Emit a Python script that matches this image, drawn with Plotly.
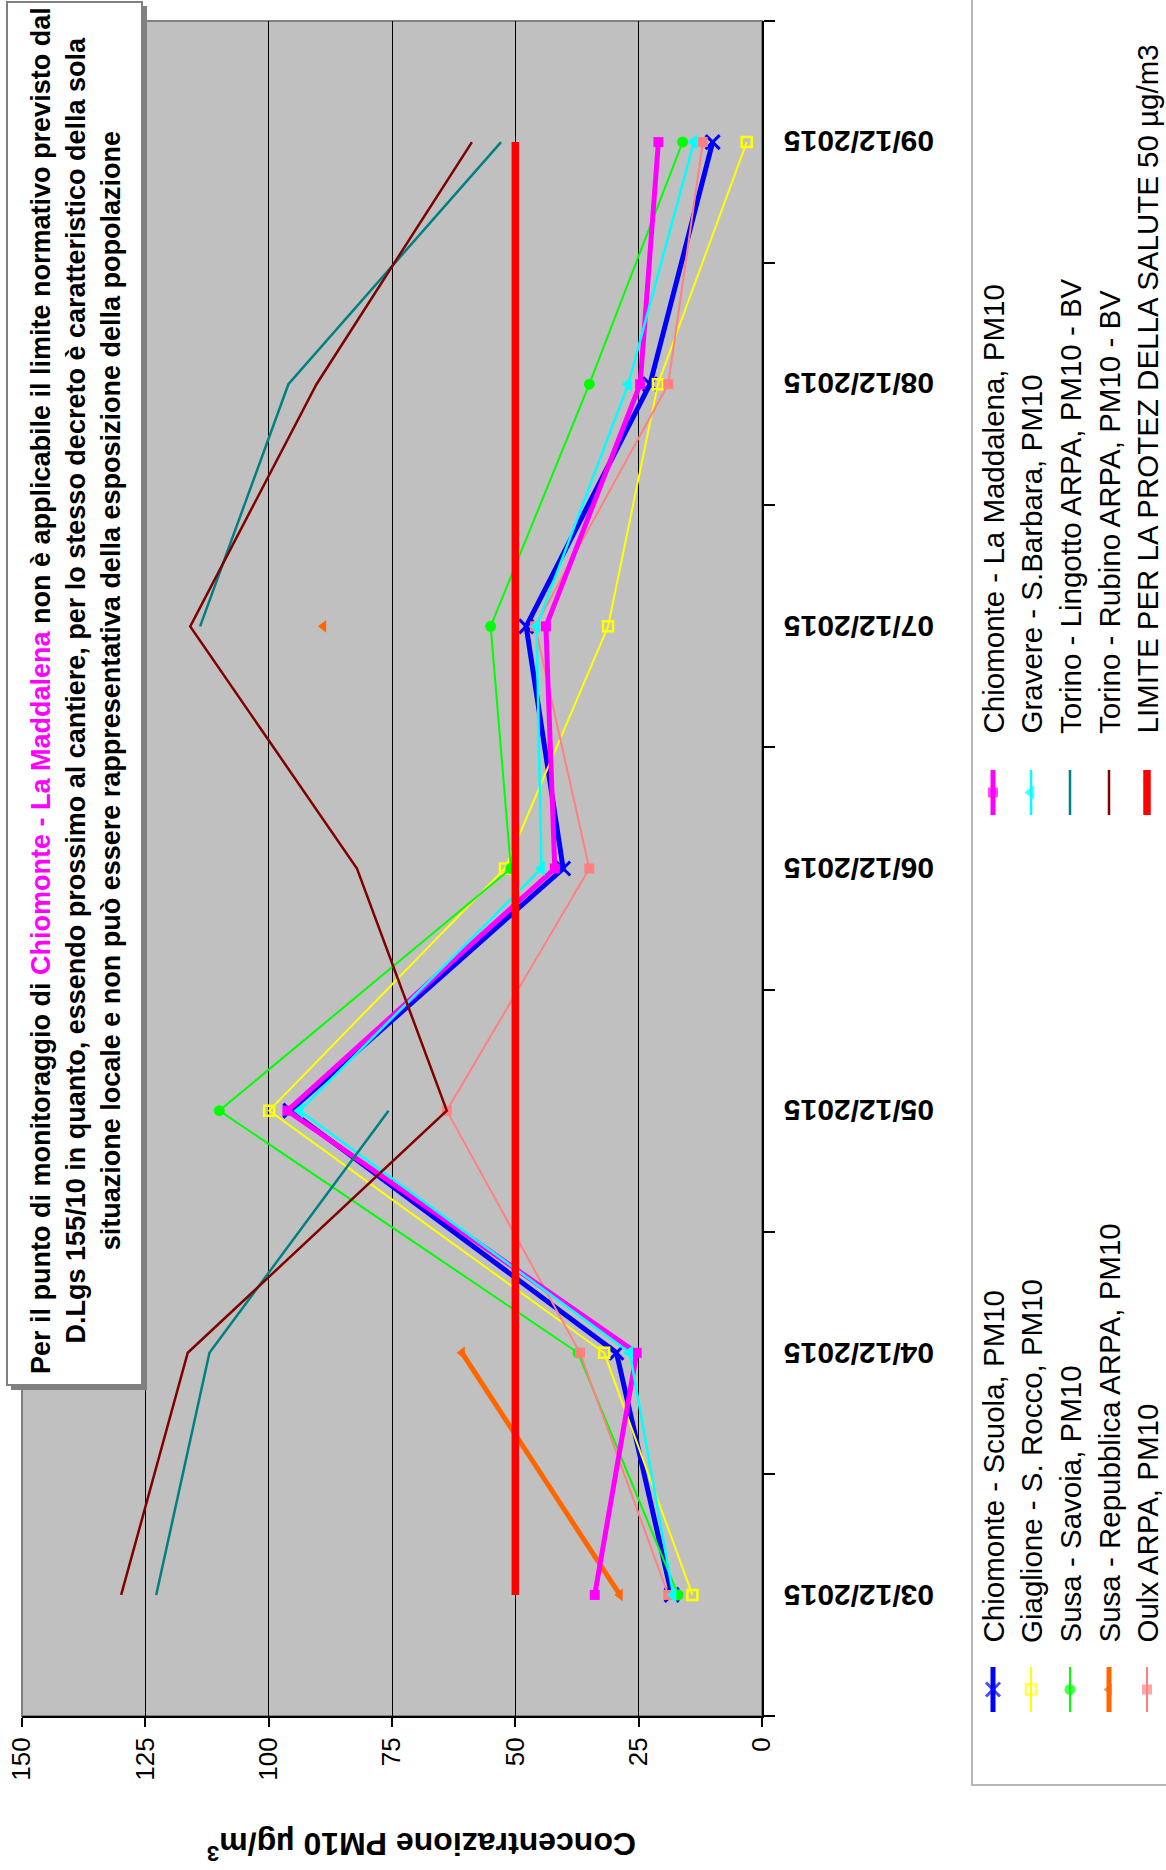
import plotly.graph_objects as go

W, H = 1166, 1870

dates = ["03/12/2015", "04/12/2015", "05/12/2015", "06/12/2015",
         "07/12/2015", "08/12/2015", "09/12/2015"]
value_ticks = [0, 25, 50, 75, 100, 125, 150]

scuola = [18.3, 29.5, 95.6, 40.3, 47.8, 22.7, 10.0]
giaglione = [14.1, 32.0, 99.9, 52.1, 31.2, 21.1, 3.1]
savoia = [17.0, 37.3, 110.0, 50.9, 55.0, 35.0, 16.1]
repubblica = [28.8, 60.8, None, None, 88.9, None, None]
oulx = [19.0, 36.9, 63.9, 35.0, 46.0, 19.0, 12.0]
maddalena = [33.9, 25.4, 96.2, 42.0, 43.8, 24.7, 21.0]
gravere = [18.0, 26.8, 93.7, 44.7, 45.7, 27.1, 13.8]
lingotto = [122.8, 112.0, 75.7, None, 113.9, 96.0, 52.9]
rubino = [129.9, 116.4, 63.9, 82.1, 115.9, 90.3, 58.8]
limite = [50, 50, 50, 50, 50, 50, 50]

names = ["Chiomonte - Scuola, PM10", "Giaglione - S. Rocco, PM10", "Susa - Savoia, PM10",
         "Susa - Repubblica ARPA, PM10", "Oulx ARPA, PM10",
         "Chiomonte - La Maddalena, PM10", "Gravere - S.Barbara, PM10",
         "Torino - Lingotto ARPA, PM10 - BV", "Torino - Rubino ARPA, PM10 - BV",
         "LIMITE PER LA PROTEZ DELLA SALUTE 50 µg/m3"]
values = [scuola, giaglione, savoia, repubblica, oulx, maddalena, gravere, lingotto, rubino, limite]

styles = [
    dict(color="#0000FF", width=5, symbol="x-thin-open", size=14, mlw=3),
    dict(color="#FFFF00", width=2, symbol="square-open", size=10, mlw=2.5),
    dict(color="#00FF00", width=2, symbol="circle", size=11, mlw=0),
    dict(color="#FF6600", width=5, symbol="triangle-left", size=11, mlw=0),
    dict(color="#FF8080", width=2, symbol="square", size=10, mlw=0),
    dict(color="#FF00FF", width=5, symbol="square", size=10, mlw=0),
    dict(color="#00FFFF", width=2.5, symbol="triangle-left", size=13, mlw=0),
    dict(color="#008080", width=2.5, symbol=None, size=0, mlw=0),
    dict(color="#800000", width=2.5, symbol=None, size=0, mlw=0),
    dict(color="#FF0000", width=7.5, symbol=None, size=0, mlw=0),
]

FONT = "Liberation Sans, Arial, sans-serif"

fig = go.Figure()

for name, vals, st in zip(names, values, styles):
    mode = "lines+markers" if st["symbol"] else "lines"
    marker = dict(symbol=st["symbol"], size=st["size"], color=st["color"],
                  line=dict(width=st["mlw"], color=st["color"])) if st["symbol"] else None
    fig.add_trace(go.Scatter(x=vals, y=dates, mode=mode, name=name, connectgaps=False,
                             line=dict(color=st["color"], width=st["width"]),
                             marker=marker, xaxis="x", yaxis="y", showlegend=False,
                             cliponaxis=False))

# ---- custom rotated legend (pixel coordinate overlay axes x2/y2) ----
leg_x = [993, 1031, 1070, 1109, 1147]
leg_groups = [(0, 1645, 1667, 1712), (5, 736, 770, 815)]
for start, text_bottom, s0, s1 in leg_groups:
    for k in range(5):
        i = start + k
        st = styles[i]
        xs = [leg_x[k]] * 3
        ys = [s0, (s0 + s1) / 2, s1]
        if st["symbol"]:
            marker = dict(symbol=st["symbol"], size=[0, st["size"], 0], color=st["color"],
                          line=dict(width=st["mlw"], color=st["color"]))
            fig.add_trace(go.Scatter(x=xs, y=ys, mode="lines+markers", xaxis="x2", yaxis="y2",
                                     line=dict(color=st["color"], width=st["width"]),
                                     marker=marker, showlegend=False, hoverinfo="skip"))
        else:
            fig.add_trace(go.Scatter(x=xs, y=ys, mode="lines", xaxis="x2", yaxis="y2",
                                     line=dict(color=st["color"], width=st["width"]),
                                     showlegend=False, hoverinfo="skip"))
        fig.add_annotation(x=leg_x[k], y=text_bottom, xref="x2", yref="y2", text=names[i],
                           textangle=-90, showarrow=False, xanchor="center", yanchor="bottom",
                           font=dict(family=FONT, size=29.5, color="black"))

shapes = [
    # plot area
    dict(type="rect", xref="x domain", yref="y domain", x0=0, x1=1, y0=0, y1=1,
         fillcolor="#C0C0C0", line=dict(color="#808080", width=2), layer="below"),
    # legend box
    dict(type="rect", xref="x2", yref="y2", x0=972, x1=1180, y0=-10, y1=1785,
         fillcolor="white", line=dict(color="#A0A0A0", width=1.5), layer="below"),
    # note box shadow + box
    dict(type="rect", xref="x2", yref="y2", x0=11, x1=147, y0=6, y1=1390,
         fillcolor="#808080", line=dict(width=0), layer="above"),
    dict(type="rect", xref="x2", yref="y2", x0=7, x1=142, y0=2, y1=1385,
         fillcolor="white", line=dict(color="#808080", width=2), layer="above"),
]

note = ("Per il punto di monitoraggio di <span style='color:#FF00FF'>Chiomonte - La Maddalena</span>"
        " non è applicabile il limite normativo previsto dal<br>"
        "D.Lgs 155/10 in quanto, essendo prossimo al cantiere, per lo stesso decreto è caratteristico della sola<br>"
        "situazione locale e non può essere rappresentativa della esposizione della popolazione")
fig.add_annotation(x=76, y=691, xref="x2", yref="y2", text="<b>" + note + "</b>", textangle=-90,
                   showarrow=False, xanchor="center", yanchor="middle", align="center",
                   font=dict(family=FONT, size=27, color="black"))

# value axis title (upside down)
fig.add_annotation(x=422, y=1846, xref="x2", yref="y2",
                   text="<b>Concentrazione PM10 µg/m<sup>3</sup></b>", textangle=180,
                   showarrow=False, xanchor="center", yanchor="middle",
                   font=dict(family=FONT, size=32, color="black"))

# category labels (upside down)
for d in dates:
    fig.add_annotation(x=859, y=d, xref="x2", yref="y", text="<b>" + d + "</b>", textangle=180,
                       showarrow=False, xanchor="center", yanchor="middle",
                       font=dict(family=FONT, size=30, color="black"))

fig.update_layout(
    template="none",
    width=W, height=H,
    margin=dict(l=0, r=0, t=0, b=0),
    paper_bgcolor="white",
    plot_bgcolor="rgba(0,0,0,0)",
    font=dict(family=FONT, color="black"),
    showlegend=False,
    shapes=shapes,
    xaxis=dict(domain=[22 / W, 762 / W], range=[150, 0], tickvals=value_ticks,
               tickangle=-90, ticks="outside", ticklen=9, tickwidth=1.5, tickcolor="black",
               showline=True, linecolor="black", linewidth=2, showgrid=True,
               gridcolor="black", gridwidth=1, zeroline=False, anchor="y",
               tickfont=dict(family=FONT, size=26, color="black"), automargin=False),
    yaxis=dict(domain=[1 - 1716 / H, 1 - 21 / H], type="category", categoryorder="array",
               categoryarray=dates, range=[-0.5, 6.5], side="right", tickson="boundaries",
               ticks="outside", ticklen=11, tickwidth=1.5, tickcolor="black",
               showline=True, linecolor="black", linewidth=1.5, showgrid=False,
               showticklabels=False, anchor="x", automargin=False),
    xaxis2=dict(domain=[0, 1], range=[0, W], visible=False, anchor="y2", fixedrange=True),
    yaxis2=dict(domain=[0, 1], range=[H, 0], visible=False, anchor="x2", fixedrange=True),
)

fig.write_html("out.html", config={"displayModeBar": False},
               post_script="document.body.style.margin='0px';document.body.style.padding='0px';")
